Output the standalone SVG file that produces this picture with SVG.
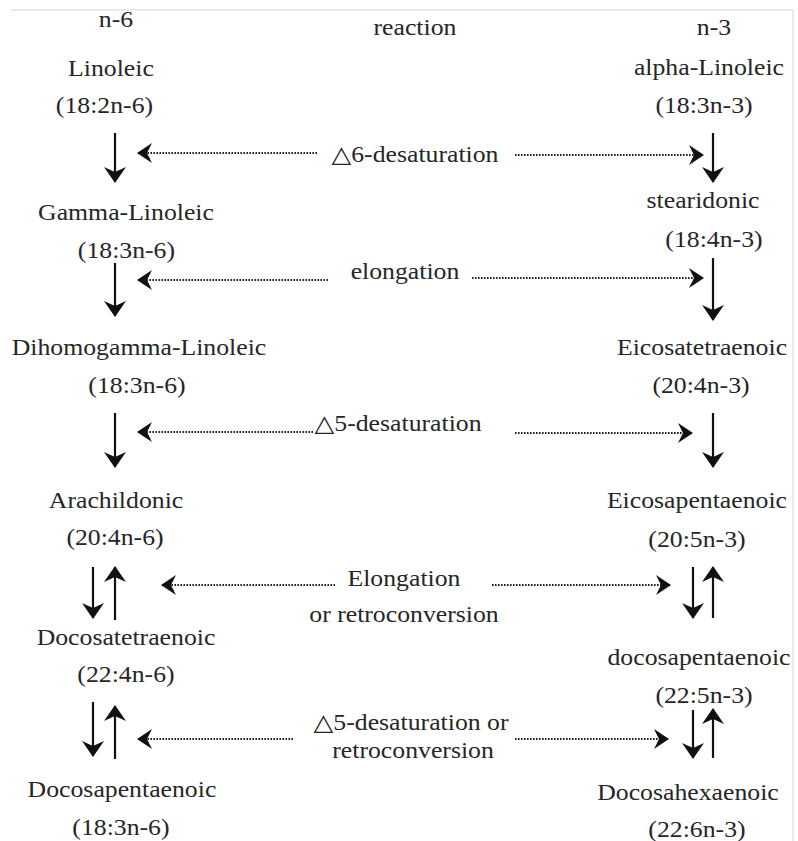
<svg xmlns="http://www.w3.org/2000/svg" width="798" height="841" viewBox="0 0 798 841">
<defs>
<style>
.t{font-family:"Liberation Serif","DejaVu Serif",serif;font-size:23px;fill:#262626;text-anchor:middle}
.s{stroke:#111;stroke-width:2.2;fill:none}
.d{stroke:#222;stroke-width:2;stroke-dasharray:1.6 1.4;fill:none}
</style>
<marker id="ah" markerUnits="userSpaceOnUse" viewBox="0 0 16 22" markerWidth="16" markerHeight="22" refX="15" refY="11" orient="auto">
<path d="M0,0 L16,11 L0,22 L5,11 z" fill="#111"/>
</marker>
<marker id="dh" markerUnits="userSpaceOnUse" viewBox="0 0 15 20" markerWidth="15" markerHeight="20" refX="14" refY="10" orient="auto">
<path d="M0,0 L15,10 L0,20 L5,10 z" fill="#111"/>
</marker>
</defs>
<rect width="798" height="841" fill="#fff"/>
<path d="M11,10 H793 V841" fill="none" stroke="#e2e2e2" stroke-width="1.5"/>

<g id="connectors">
<!-- left solid arrows -->
<line class="s" x1="115" y1="133" x2="115" y2="182" marker-end="url(#ah)"/>
<line class="s" x1="115" y1="263" x2="115" y2="316" marker-end="url(#ah)"/>
<line class="s" x1="115" y1="413" x2="115" y2="467" marker-end="url(#ah)"/>
<line class="s" x1="93" y1="567" x2="93" y2="618" marker-end="url(#ah)"/>
<line class="s" x1="115" y1="620" x2="115" y2="567" marker-end="url(#ah)"/>
<line class="s" x1="93" y1="702" x2="93" y2="756" marker-end="url(#ah)"/>
<line class="s" x1="115" y1="759" x2="115" y2="706" marker-end="url(#ah)"/>
<!-- right solid arrows -->
<line class="s" x1="713" y1="133" x2="713" y2="182" marker-end="url(#ah)"/>
<line class="s" x1="713" y1="258" x2="713" y2="320" marker-end="url(#ah)"/>
<line class="s" x1="713" y1="413" x2="713" y2="467" marker-end="url(#ah)"/>
<line class="s" x1="693" y1="567" x2="693" y2="618" marker-end="url(#ah)"/>
<line class="s" x1="713" y1="618" x2="713" y2="567" marker-end="url(#ah)"/>
<line class="s" x1="693" y1="710" x2="693" y2="758" marker-end="url(#ah)"/>
<line class="s" x1="713" y1="758" x2="713" y2="709" marker-end="url(#ah)"/>
<!-- dotted arrows -->
<line class="d" x1="317" y1="153" x2="138" y2="153" marker-end="url(#dh)"/>
<line class="d" x1="515" y1="155" x2="703" y2="155" marker-end="url(#dh)"/>
<line class="d" x1="328" y1="280" x2="138" y2="280" marker-end="url(#dh)"/>
<line class="d" x1="472" y1="278" x2="703" y2="278" marker-end="url(#dh)"/>
<line class="d" x1="313" y1="432" x2="138" y2="432" marker-end="url(#dh)"/>
<line class="d" x1="515" y1="433" x2="692" y2="433" marker-end="url(#dh)"/>
<line class="d" x1="335" y1="585" x2="162" y2="585" marker-end="url(#dh)"/>
<line class="d" x1="492" y1="585" x2="670" y2="585" marker-end="url(#dh)"/>
<line class="d" x1="293" y1="739" x2="138" y2="739" marker-end="url(#dh)"/>
<line class="d" x1="515" y1="739" x2="668" y2="739" marker-end="url(#dh)"/>
</g>

<g transform="scale(1.12 1)">
<g id="head-n6"><text class="t" x="103.6" y="27">n-6</text></g>
<g id="head-reaction"><text class="t" x="370.5" y="35">reaction</text></g>
<g id="head-n3"><text class="t" x="637.5" y="35">n-3</text></g>

<g id="linoleic"><text class="t" x="99.1" y="76">Linoleic</text><text class="t" x="93.3" y="113">(18:2n-6)</text></g>
<g id="gamma-linoleic"><text class="t" x="112.5" y="220">Gamma-Linoleic</text><text class="t" x="112.9" y="258">(18:3n-6)</text></g>
<g id="dihomogamma"><text class="t" x="124.1" y="355">Dihomogamma-Linoleic</text><text class="t" x="122.3" y="393">(18:3n-6)</text></g>
<g id="arachildonic"><text class="t" x="103.6" y="508">Arachildonic</text><text class="t" x="102.7" y="545">(20:4n-6)</text></g>
<g id="docosatetraenoic"><text class="t" x="112.5" y="645">Docosatetraenoic</text><text class="t" x="112.5" y="682">(22:4n-6)</text></g>
<g id="docosapentaenoic-n6"><text class="t" x="108.9" y="797">Docosapentaenoic</text><text class="t" x="108" y="835">(18:3n-6)</text></g>

<g id="r-d6"><text class="t" x="370.5" y="162">△6-desaturation</text></g>
<g id="r-elong"><text class="t" x="361.6" y="279">elongation</text></g>
<g id="r-d5"><text class="t" x="355.4" y="431">△5-desaturation</text></g>
<g id="r-elong-retro"><text class="t" x="360.7" y="586">Elongation</text><text class="t" x="360.7" y="622">or retroconversion</text></g>
<g id="r-d5-retro"><text class="t" x="367" y="730">△5-desaturation or</text><text class="t" x="368.8" y="758">retroconversion</text></g>

<g id="alpha-linoleic"><text class="t" x="633" y="75">alpha-Linoleic</text><text class="t" x="628.6" y="113">(18:3n-3)</text></g>
<g id="stearidonic"><text class="t" x="627.7" y="208">stearidonic</text><text class="t" x="637.5" y="247">(18:4n-3)</text></g>
<g id="eicosatetraenoic"><text class="t" x="626.8" y="355">Eicosatetraenoic</text><text class="t" x="625.9" y="393">(20:4n-3)</text></g>
<g id="eicosapentaenoic"><text class="t" x="622.3" y="508">Eicosapentaenoic</text><text class="t" x="622.3" y="547">(20:5n-3)</text></g>
<g id="docosapentaenoic-n3"><text class="t" x="624.1" y="665">docosapentaenoic</text><text class="t" x="628.6" y="703">(22:5n-3)</text></g>
<g id="docosahexaenoic"><text class="t" x="614.3" y="800">Docosahexaenoic</text><text class="t" x="622.3" y="837">(22:6n-3)</text></g>
</g>
</svg>
